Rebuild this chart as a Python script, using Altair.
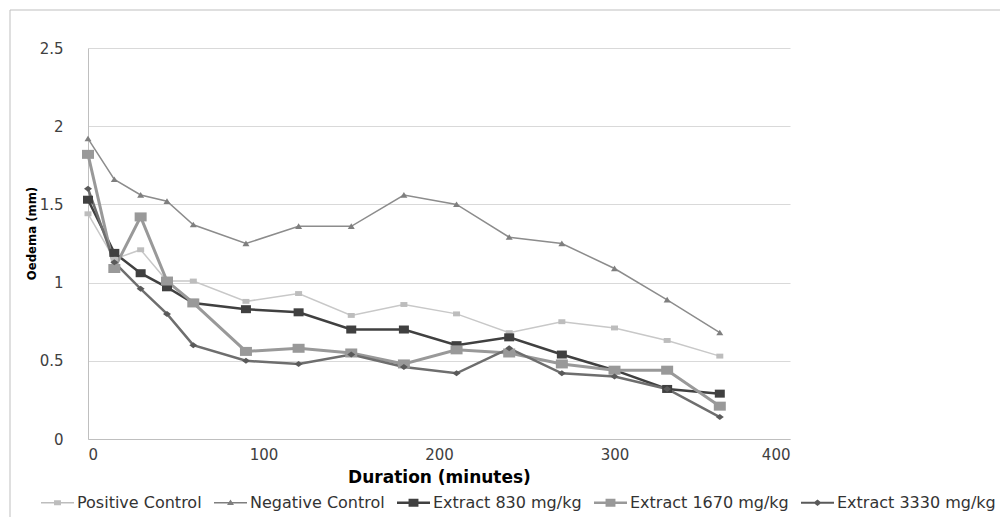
import altair as alt
import pandas as pd

# ---- data ----
minutes = [0, 15, 30, 45, 60, 90, 120, 150, 180, 210, 240, 270, 300, 330, 360]
series_names = ["Positive Control", "Negative Control", "Extract 830 mg/kg",
                "Extract 1670 mg/kg", "Extract 3330 mg/kg"]
positive = [1.44, 1.15, 1.21, 1.01, 1.01, 0.88, 0.93, 0.79, 0.86, 0.80, 0.68, 0.75, 0.71, 0.63, 0.53]
negative = [1.92, 1.66, 1.56, 1.52, 1.37, 1.25, 1.36, 1.36, 1.56, 1.50, 1.29, 1.25, 1.09, 0.89, 0.68]
e830 = [1.53, 1.19, 1.06, 0.97, 0.87, 0.83, 0.81, 0.70, 0.70, 0.60, 0.65, 0.54, 0.44, 0.32, 0.29]
e1670 = [1.82, 1.09, 1.42, 1.01, 0.87, 0.56, 0.58, 0.55, 0.48, 0.57, 0.55, 0.48, 0.44, 0.44, 0.21]
e3330 = [1.60, 1.13, 0.96, 0.80, 0.60, 0.50, 0.48, 0.54, 0.46, 0.42, 0.58, 0.42, 0.40, 0.32, 0.14]
values = [positive, negative, e830, e1670, e3330]
x_ticks = [0, 100, 200, 300, 400]
y_ticks = [0, 0.5, 1, 1.5, 2, 2.5]

# ---- styles ----
line_colors = ["#C8C8C8", "#8C8C8C", "#404040", "#999999", "#6E6E6E"]
marker_colors = ["#BDBDBD", "#7F7F7F", "#404040", "#999999", "#5A5A5A"]
line_widths = [1.5, 1.5, 2.5, 3, 2.5]
marker_paths = [
    "M-1,-0.7L1,-0.7L1,0.7L-1,0.7Z",
    "M0,-0.85L1,0.75L-1,0.75Z",
    "M-1,-0.8L1,-0.8L1,0.8L-1,0.8Z",
    "M-1,-0.75L1,-0.75L1,0.75L-1,0.75Z",
    "M0,-0.75L1,0L0,0.75L-1,0Z",
]
marker_sizes = [49, 49, 100, 144, 64]
legend_paths = [
    "M-1,-0.045L1,-0.045L1,0.045L-1,0.045Z M-0.21,-0.15L0.21,-0.15L0.21,0.15L-0.21,0.15Z",
    "M-1,-0.04L1,-0.04L1,0.04L-1,0.04Z M0,-0.19L0.21,0.14L-0.21,0.14Z",
    "M-1,-0.08L1,-0.08L1,0.08L-1,0.08Z M-0.3,-0.24L0.3,-0.24L0.3,0.24L-0.3,0.24Z",
    "M-1,-0.08L1,-0.08L1,0.08L-1,0.08Z M-0.3,-0.24L0.3,-0.24L0.3,0.24L-0.3,0.24Z",
    "M-1,-0.065L1,-0.065L1,0.065L-1,0.065Z M0,-0.2L0.25,0L0,0.2L-0.25,0Z",
]

rows = []
for name, vals in zip(series_names, values):
    for m, v in zip(minutes, vals):
        rows.append({"series": name, "minutes": m, "value": v})
df = pd.DataFrame(rows)

x_enc = alt.X("minutes:Q",
              scale=alt.Scale(domain=[0, 400], nice=False),
              axis=alt.Axis(values=x_ticks, title="Duration (minutes)", grid=False,
                            ticks=False, tickSize=0, labelPadding=8,
                            titleY=38, titleBaseline="middle",
                            titleFont="DejaVu Sans", titleFontSize=17,
                            titleFontWeight="bold", titleColor="#000000"))
y_enc = alt.Y("value:Q",
              scale=alt.Scale(domain=[0, 2.5], nice=False),
              axis=alt.Axis(values=y_ticks, format=".1~f", title="Oedema (mm)",
                            ticks=False, tickSize=0, labelPadding=25,
                            titleX=-50, titleY=185, titleAngle=270,
                            titleAlign="center", titleBaseline="bottom",
                            titleFont="'Liberation Sans Narrow', 'DejaVu Sans Condensed', 'Liberation Sans', sans-serif",
                            titleFontSize=13,
                            titleFontWeight="bold", titleColor="#000000"))

base = alt.Chart(df)

frame = alt.Chart(pd.DataFrame({"k": [0]})).mark_rect(
    filled=False, stroke="#BFBFBF", strokeWidth=1
).encode(x=alt.value(-78), x2=alt.value(1200), y=alt.value(-38), y2=alt.value(700))

layers = [frame]
for i, name in enumerate(series_names):
    sub = base.transform_filter(alt.datum.series == name)
    layers.append(sub.mark_line(color=line_colors[i], strokeWidth=line_widths[i]).encode(x=x_enc, y=y_enc))
for i, name in enumerate(series_names):
    sub = base.transform_filter(alt.datum.series == name)
    layers.append(sub.mark_point(filled=True, shape=marker_paths[i], size=marker_sizes[i],
                                 color=marker_colors[i], opacity=1, strokeWidth=0)
                  .encode(x=x_enc, y=y_enc))

leg = alt.Legend(title=None, orient="none", legendX=-47, legendY=438,
                 direction="horizontal", columns=5, columnPadding=12,
                 labelOffset=3, symbolSize=1089, symbolStrokeWidth=0,
                 symbolOpacity=1, labelFont="DejaVu Sans", labelFontSize=16,
                 labelColor="#333333", labelLimit=300)
legend_layer = base.mark_point(filled=True, opacity=0, size=1089).encode(
    x=x_enc, y=y_enc,
    color=alt.Color("series:N", scale=alt.Scale(domain=series_names, range=marker_colors), legend=leg),
    shape=alt.Shape("series:N", scale=alt.Scale(domain=series_names, range=legend_paths), legend=leg),
)
layers.append(legend_layer)

chart = alt.layer(*layers).properties(
    width=702, height=391,
    autosize=alt.AutoSizeParams(type="none"),
    padding={"left": 80, "top": 40, "right": 210, "bottom": 78},
).configure_view(strokeWidth=0).configure_axis(
    labelFont="DejaVu Sans", labelFontSize=15, labelColor="#404040",
    domainColor="#BFBFBF", gridColor="#D9D9D9",
)

chart.save("out.html", embed_options={"renderer": "svg", "actions": False})
